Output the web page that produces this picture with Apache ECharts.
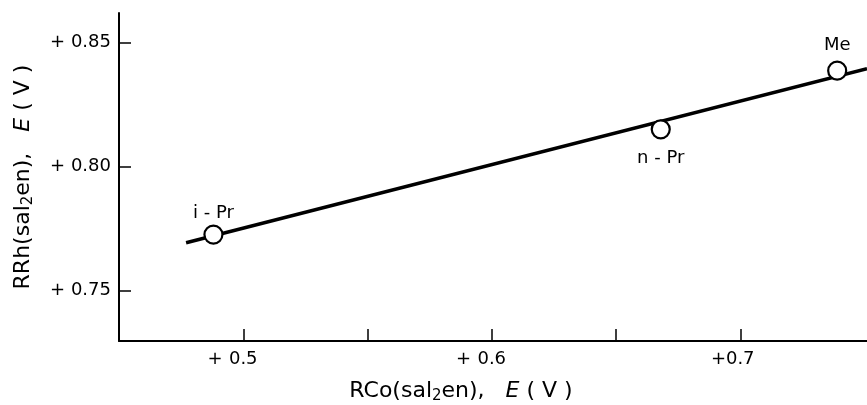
<!DOCTYPE html>
<html>
<head>
<meta charset="UTF-8">
<title></title>
<style>
  html, body { margin: 0; padding: 0; background: #fff; }
  #container { width: 867px; height: 405px; }
</style>
</head>
<body>
<div id="container"></div>
<script src="https://cdn.jsdelivr.net/npm/echarts@6/dist/echarts.min.js"></script>
<script>
// measured points (RCo E, RRh E)
var pointNames = ['i - Pr', 'n - Pr', 'Me'];
var coE = [0.488, 0.668, 0.739];
var rhE = [0.7725, 0.815, 0.8387];
var labelSide = ['top', 'bottom', 'top'];
var labelGap = [2, 10, 6];

// straight fit line, ends as drawn
var fitX = [0.477, 0.751];
var fitY = [0.7692, 0.8395];

var xTicks = [0.5, 0.55, 0.6, 0.65, 0.7];
var xLabelValues = [0.5, 0.6, 0.7];
var xLabelSign = ['+ ', '+ ', '+'];
var xLabelNum = ['0.5', '0.6', '0.7'];
var yTicks = [0.75, 0.80, 0.85];
var yLabelText = ['+ 0.75', '+ 0.80', '+ 0.85'];

var font = 'DejaVu Sans';
var ink = '#000';

var myChart = echarts.init(document.getElementById('container'));

var pts = coE.map(function (x, i) {
    return {
        value: [x, rhE[i]],
        name: pointNames[i],
        label: { position: labelSide[i], distance: labelGap[i] }
    };
});

var nameRich = {
    a: { fontFamily: font, fontSize: 22, color: ink },
    i: { fontFamily: font, fontSize: 22, color: ink, fontStyle: 'italic' },
    s: { fontFamily: font, fontSize: 15, color: ink, verticalAlign: 'bottom', padding: [10, 0, 0, 0] }
};

myChart.setOption({
    animation: false,
    backgroundColor: '#fff',
    grid: { left: 119, right: 0, top: 13, bottom: 64, outerBoundsMode: 'none', containLabel: false },
    xAxis: {
        type: 'value',
        min: 0.45,
        max: 0.751,
        splitLine: { show: false },
        axisLine: { lineStyle: { color: ink, width: 2 } },
        axisTick: { inside: true, length: 12, customValues: xTicks, lineStyle: { color: ink, width: 1.5 } },
        axisLabel: {
            customValues: xLabelValues,
            margin: 9,
            color: ink,
            formatter: function (v) {
                var k = xLabelValues.findIndex(function (t) { return Math.abs(t - v) < 1e-6; });
                if (k < 0) return '';
                var wide = xLabelSign[k].length > 1;
                return '{' + (wide ? 'p' : 'p2') + '|' + xLabelSign[k] + '}{n|' + xLabelNum[k] + '}{' + (wide ? 'q' : 'q2') + '|}';
            },
            rich: {
                p: { fontFamily: font, fontSize: 18, color: ink, width: 22 },
                p2: { fontFamily: font, fontSize: 18, color: ink, width: 15 },
                n: { fontFamily: font, fontSize: 18, color: ink },
                q: { width: 22 },
                q2: { width: 15 }
            }
        },
        name: '{a|RCo(sal}{s|2}{a|en),   }{i|E}{a| ( V )}',
        nameLocation: 'middle',
        nameGap: 38,
        nameTextStyle: { padding: [0, 64, 0, 0], rich: nameRich }
    },
    yAxis: {
        type: 'value',
        min: 0.7295,
        max: 0.862,
        splitLine: { show: false },
        axisLine: { lineStyle: { color: ink, width: 2 } },
        axisTick: { inside: true, length: 12, customValues: yTicks, lineStyle: { color: ink, width: 1.5 } },
        axisLabel: {
            customValues: yTicks,
            margin: 8,
            color: ink,
            fontFamily: font,
            fontSize: 18,
            formatter: function (v) {
                var k = yTicks.findIndex(function (t) { return Math.abs(t - v) < 1e-6; });
                return k >= 0 ? yLabelText[k] : '';
            }
        },
        name: '{a|RRh(sal}{s|2}{a|en),   }{i|E}{a| ( V )}',
        nameLocation: 'middle',
        nameRotate: 90,
        nameGap: 83,
        nameTextStyle: { rich: nameRich }
    },
    series: [
        {
            type: 'line',
            data: fitX.map(function (x, i) { return [x, fitY[i]]; }),
            symbol: 'none',
            lineStyle: { color: ink, width: 3.5 },
            z: 2
        },
        {
            type: 'scatter',
            data: pts,
            symbol: 'circle',
            symbolSize: 18,
            itemStyle: { color: '#fff', borderColor: ink, borderWidth: 2.2, opacity: 1 },
            label: {
                show: true,
                formatter: '{b}',
                color: ink,
                fontFamily: font,
                fontSize: 18
            },
            z: 3
        }
    ]
});
</script>
</body>
</html>
